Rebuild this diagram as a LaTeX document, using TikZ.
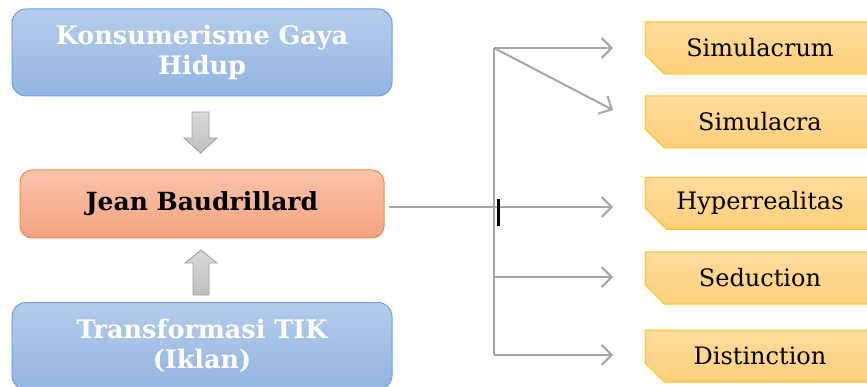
\documentclass[tikz,border=0pt]{standalone}
\usepackage{fontspec}
\setmainfont{DejaVu Serif}
\usetikzlibrary{shapes.misc,arrows.meta}
\definecolor{blueTop}{HTML}{B4CCEB}
\definecolor{blueBot}{HTML}{93B5E2}
\definecolor{blueLine}{HTML}{6FA0DC}
\definecolor{salTop}{HTML}{F8C3AA}
\definecolor{salBot}{HTML}{F4A481}
\definecolor{salLine}{HTML}{F08C4F}
\definecolor{yelTop}{HTML}{FEDC9E}
\definecolor{yelBot}{HTML}{FFD07A}
\definecolor{yelLine}{HTML}{FFC21E}
\definecolor{conn}{HTML}{A6A6A6}
\definecolor{blkTop}{HTML}{D9D9D9}
\definecolor{blkBot}{HTML}{BFBFBF}
\definecolor{blkLine}{HTML}{A0A0A0}
\tikzset{
  bluebox/.style={rectangle, rounded corners=14pt, draw=blueLine, line width=1pt,
    top color=blueTop, bottom color=blueBot, minimum width=380pt, minimum height=87pt,
    text=white, font=\bfseries\fontsize{25.5}{30}\selectfont, align=center, inner sep=0pt},
  midbox/.style={rectangle, rounded corners=12pt, draw=salLine, line width=1pt,
    top color=salTop, bottom color=salBot, minimum width=364pt, minimum height=68pt,
    text=black, font=\bfseries\fontsize{25}{30}\selectfont, inner sep=0pt},
  itembox/.style={chamfered rectangle, chamfered rectangle corners=south west,
    chamfered rectangle xsep=12pt, chamfered rectangle ysep=10pt,
    draw=yelLine, line width=1pt, top color=yelTop, bottom color=yelBot,
    minimum width=230pt, minimum height=52pt, inner sep=0pt,
    text=black, font=\fontsize{24}{28}\selectfont},
  conline/.style={draw=conn, line width=2pt},
  conarrow/.style={conline, -{Straight Barb[length=10pt,width=20pt,line width=2pt]}},
  blockarrow/.style={draw=blkLine, line width=0.8pt, top color=blkTop, bottom color=blkBot}
}
\begin{document}
\begin{tikzpicture}[x=1pt,y=-1pt]
\useasboundingbox (0,0) rectangle (867,387);
% left column
\node[bluebox] (kons) at (202,52.5) {Konsumerisme Gaya\\Hidup};
\node[midbox] (jean) at (202,204) {Jean Baudrillard};
\node[bluebox] (tik) at (202,346) {Transformasi TIK\\(Iklan)};
% block arrows
\path[blockarrow] (192,112) -- (209,112) -- (209,138) -- (217,138) -- (200.5,153)
  -- (184,138) -- (192,138) -- cycle;
\path[blockarrow] (193,295) -- (209,295) -- (209,263) -- (217,263) -- (201,250)
  -- (185,263) -- (193,263) -- cycle;
% right items
\node[itembox] (s1) at (760,48) {Simulacrum};
\node[itembox] (s2) at (760,122) {Simulacra};
\node[itembox] (s3) at (760,203.5) {Hyperrealitas};
\node[itembox] (s4) at (760,278) {Seduction};
\node[itembox] (s5) at (760,356) {Distinction};
% connectors
\coordinate (top) at (494,48);
\coordinate (bot) at (494,355);
\coordinate (mid4) at (494,277);
\coordinate (e1) at (613,48);
\coordinate (e2) at (613,110);
\coordinate (e3) at (613,207);
\coordinate (e4) at (613,277);
\coordinate (e5) at (613,355);
\path[conline] (top) -- (bot);
\path[conarrow] (top) -- (e1);
\path[conarrow] (top) -- (e2);
\path[conarrow] (jean.east |- e3) ++(4,0) -- (e3);
\path[conarrow] (mid4) -- (e4);
\path[conarrow] (bot) -- (e5);
% cursor mark
\coordinate (c1) at (498.5,199);
\coordinate (c2) at (498.5,226);
\draw[black, line width=2.2pt] (c1) -- (c2);
\end{tikzpicture}
\end{document}
